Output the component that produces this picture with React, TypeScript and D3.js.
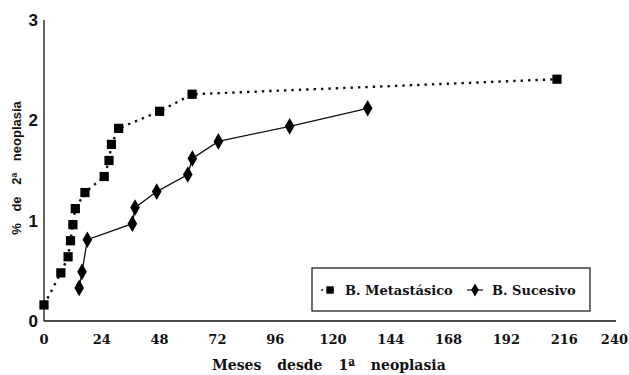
import React, { useEffect, useRef } from 'react';
import * as d3 from 'd3';

// meses desde 1a neoplasia / % de 2a neoplasia
const metaMonths = [0, 7, 10, 11, 12, 13, 17, 25, 27, 28, 31, 48, 61.5, 213];
const metaPct = [0.16, 0.48, 0.64, 0.8, 0.96, 1.12, 1.28, 1.44, 1.6, 1.76, 1.92, 2.09, 2.26, 2.41];
const sucMonths = [14.6, 15.8, 18, 36.7, 37.8, 46.8, 59.7, 61.6, 72.4, 102, 134.4];
const sucPct = [0.33, 0.49, 0.81, 0.97, 1.13, 1.29, 1.46, 1.62, 1.79, 1.94, 2.12];
const xTicks = [0, 24, 48, 72, 96, 120, 144, 168, 192, 216, 240];
const yTicks = [0, 1, 2, 3];
const seriesNames = ['B. Metastásico', 'B. Sucesivo'];

const W = 629;
const H = 375;
const serif = "'DejaVu Serif', serif";

export default function App() {
  const ref = useRef<SVGSVGElement>(null);

  useEffect(() => {
    const svg = d3.select(ref.current);
    svg.selectAll('*').remove();

    const x = d3.scaleLinear().domain([0, 240]).range([44, 622]);
    const y = d3.scaleLinear().domain([0, 3]).range([321, 20]);

    // axes
    svg.append('line')
      .attr('x1', x(0)).attr('x2', 616)
      .attr('y1', y(0)).attr('y2', y(0))
      .attr('stroke', '#111').attr('stroke-width', 1.3);
    svg.append('line')
      .attr('x1', x(0)).attr('x2', x(0))
      .attr('y1', y(0)).attr('y2', y(3))
      .attr('stroke', '#111').attr('stroke-width', 1.3);

    svg.selectAll('.xt')
      .data(xTicks)
      .enter()
      .append('text')
      .attr('x', d => d === 240 ? 628 : x(d))
      .attr('y', 344)
      .attr('text-anchor', d => d === 240 ? 'end' : 'middle')
      .style('font-family', serif)
      .style('font-weight', 'bold')
      .style('font-size', '13px')
      .attr('fill', '#111')
      .text(d => d);

    svg.selectAll('.yt')
      .data(yTicks)
      .enter()
      .append('text')
      .attr('x', 38)
      .attr('y', d => y(d) + 6)
      .attr('text-anchor', 'end')
      .style('font-family', "'Liberation Sans', sans-serif")
      .style('font-weight', 'bold')
      .style('font-size', '17px')
      .attr('fill', '#111')
      .text(d => d);

    // axis titles
    svg.append('text')
      .attr('x', 329).attr('y', 370)
      .attr('text-anchor', 'middle')
      .style('font-family', serif)
      .style('font-weight', 'bold')
      .style('font-size', '14px')
      .style('word-spacing', '11px')
      .attr('fill', '#111')
      .text('Meses desde 1ª neoplasia');

    svg.append('text')
      .attr('transform', 'translate(21,168) rotate(-90)')
      .attr('text-anchor', 'middle')
      .style('font-family', "'Liberation Sans', sans-serif")
      .style('font-weight', 'bold')
      .style('font-size', '13px')
      .style('word-spacing', '8px')
      .attr('fill', '#111')
      .text('% de 2ª neoplasia');

    const meta = metaMonths.map((m, i) => [m, metaPct[i]] as [number, number]);
    const suc = sucMonths.map((m, i) => [m, sucPct[i]] as [number, number]);
    const line = d3.line<[number, number]>().x(d => x(d[0])).y(d => y(d[1]));

    svg.append('path')
      .attr('d', line(meta))
      .attr('fill', 'none')
      .attr('stroke', '#111')
      .attr('stroke-width', 2.4)
      .attr('stroke-dasharray', '2.4 5');

    svg.append('path')
      .attr('d', line(suc))
      .attr('fill', 'none')
      .attr('stroke', '#111')
      .attr('stroke-width', 1.3);

    const sq = d3.symbol().type(d3.symbolSquare).size(85);
    const dia = d3.symbol().type(d3.symbolDiamond).size(80);

    svg.selectAll('.sq')
      .data(meta)
      .enter()
      .append('path')
      .attr('d', sq)
      .attr('transform', d => `translate(${x(d[0])},${y(d[1])})`)
      .attr('fill', '#000');

    svg.selectAll('.dia')
      .data(suc)
      .enter()
      .append('path')
      .attr('d', dia)
      .attr('transform', d => `translate(${x(d[0])},${y(d[1])})`)
      .attr('fill', '#000');

    // legend
    const lg = svg.append('g');
    lg.append('rect')
      .attr('x', 312).attr('y', 268)
      .attr('width', 278).attr('height', 43)
      .attr('fill', '#fff')
      .attr('stroke', '#111')
      .attr('stroke-width', 1.2);
    lg.append('line')
      .attr('x1', 321).attr('x2', 340).attr('y1', 290).attr('y2', 290)
      .attr('stroke', '#111').attr('stroke-width', 1.5).attr('stroke-dasharray', '2 9');
    lg.append('path').attr('d', d3.symbol().type(d3.symbolSquare).size(55)())
      .attr('transform', 'translate(330,290)').attr('fill', '#000');
    lg.append('text')
      .attr('x', 345).attr('y', 295)
      .style('font-family', serif)
      .style('font-weight', 'bold')
      .style('font-size', '13px')
      .attr('fill', '#111')
      .text(seriesNames[0]);
    lg.append('line')
      .attr('x1', 467).attr('x2', 483).attr('y1', 290).attr('y2', 290)
      .attr('stroke', '#111').attr('stroke-width', 1.2);
    lg.append('path').attr('d', d3.symbol().type(d3.symbolDiamond).size(50)())
      .attr('transform', 'translate(475,290)').attr('fill', '#000');
    lg.append('text')
      .attr('x', 492).attr('y', 295)
      .style('font-family', serif)
      .style('font-weight', 'bold')
      .style('font-size', '13px')
      .attr('fill', '#111')
      .text(seriesNames[1]);
  }, []);

  return (
    <svg ref={ref} width={W} height={H}
      style={{ position: 'absolute', left: 0, top: 0, background: '#fff' }} />
  );
}
